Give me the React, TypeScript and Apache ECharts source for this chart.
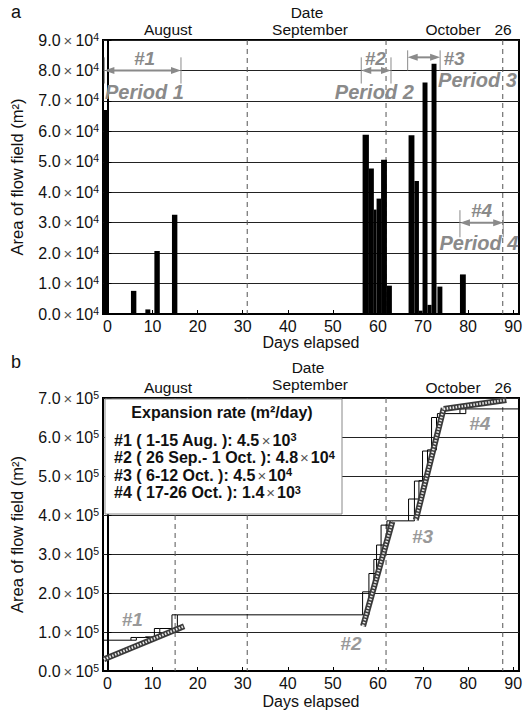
import React, { useEffect, useRef } from 'react';
import * as echarts from 'echarts';

// ---- data (days elapsed since 1 Aug) ----
const barStart = [-0.9, 5.2, 8.4, 10.4, 14.3, 56.6, 58.0, 59.1, 59.7, 60.7, 62.0, 66.8, 68.1, 69.1, 69.9, 71.0, 71.9, 73.2, 78.2];
const barEnd = [0.1, 6.4, 9.5, 11.6, 15.5, 58.0, 59.1, 59.7, 60.7, 62.0, 63.1, 68.1, 69.1, 69.9, 71.0, 71.9, 73.0, 74.3, 79.5];
const dailyArea = [67000, 7600, 1500, 20700, 32600, 58900, 47800, 34300, 37900, 50700, 9300, 58700, 43700, 1100, 76000, 3000, 82200, 9000, 13000];
const cumulativeArea = [79000, 86000, 87500, 109000, 144000, 203000, 250000, 286000, 323000, 374000, 385000, 441000, 487000, 488000, 564000, 567000, 650000, 660000, 672000];

const fitX0 = [-0.8, 56.7, 68.4, 74.6];
const fitY0 = [30000, 115000, 387000, 672000];
const fitX1 = [17.0, 63.2, 74.6, 88.5];
const fitY1 = [115000, 383000, 674000, 695000];

const periodFrom = [-0.7, 56.3, 66.6, 78.2];
const periodTo = [16.3, 62.9, 73.8, 87.8];
const periodLevel = [80000, 80000, 84300, 30000];
const periodTickTop = [84300, 84300, 86600, 34100];
const periodTickBottom = [75700, 75700, 80000, 25200];

const topLabelText = ['#1', '#2', '#3', '#4', 'Period 1', 'Period 2', 'Period 3', 'Period 4'];
const topLabelX = [8.2, 59.4, 76.9, 83.0, 8.2, 59.2, 82.1, 82.4];
const topLabelY = [83900, 83900, 83900, 34100, 72800, 72800, 76700, 23300];

const bottomLabelText = ['#1', '#2', '#3', '#4'];
const bottomLabelX = [5.5, 54.0, 69.9, 82.6];
const bottomLabelY = [131000, 71000, 344000, 635000];

const topDateLines = [31, 61.8, 87.7];
const bottomDateLines = [15, 31, 61.8, 87.7];

const xTicks = [0, 10, 20, 30, 40, 50, 60, 70, 80, 90];
const X_MIN = -1;
const X_MAX = 91.3;

const rateTitle = 'Expansion rate (m²/day)';
const ratePeriods = ['#1 ( 1-15 Aug. ): ', '#2 ( 26 Sep.- 1 Oct. ): ', '#3 ( 6-12 Oct. ): ', '#4 ( 17-26 Oct. ): '];
const rateMantissa = ['4.5', '4.8', '4.5', '1.4'];
const rateExponent = ['3', '4', '4', '3'];

const FONT = 'Liberation Sans, Arial, sans-serif';
const GRAY = '#8a8a8a';

function sciRich() {
  return {
    a: { fontSize: 16, fontFamily: FONT, color: '#111', lineHeight: 18 },
    x: { fontSize: 15, fontFamily: FONT, color: '#555', lineHeight: 18, padding: [0, 3, 0, 3] },
    s: { fontSize: 10.5, fontFamily: FONT, color: '#111', verticalAlign: 'top', lineHeight: 11 },
  };
}

function xAxis(gridIndex: number, gap: number) {
  return {
    type: 'value', gridIndex, min: X_MIN, max: X_MAX, splitNumber: 9,
    splitLine: { show: false },
    axisLine: { lineStyle: { color: '#000', width: 2 } },
    axisTick: { inside: true, length: 4, lineStyle: { color: '#000' } },
    axisLabel: {
      formatter: (v: number) => (xTicks.indexOf(v) >= 0 ? String(v) : ''),
      margin: 4, fontSize: 16, color: '#111', fontFamily: FONT,
    },
    name: 'Days elapsed', nameLocation: 'middle', nameGap: gap,
    nameTextStyle: { fontSize: 16, color: '#111', fontFamily: FONT },
  };
}

function yAxis(gridIndex: number, max: number, step: number, exp: string) {
  return {
    type: 'value', gridIndex, min: 0, max, interval: step,
    axisLine: { show: true, lineStyle: { color: '#000', width: 2 } },
    axisTick: { show: true, inside: true, length: 4, lineStyle: { color: '#000' } },
    splitLine: { show: true, lineStyle: { color: '#222', width: 1 } },
    axisLabel: {
      margin: 4,
      formatter: (v: number) => `{a|${(v / step).toFixed(1)}}{x|×}{a|10}{s|${exp}}`,
      rich: sciRich(),
    },
    name: 'Area of flow field (m²)', nameLocation: 'middle', nameGap: 78,
    nameTextStyle: { fontSize: 16.5, color: '#111', fontFamily: FONT },
  };
}

function dashedSeries(axisIndex: number, days: number[]) {
  return {
    type: 'custom', xAxisIndex: axisIndex, yAxisIndex: axisIndex, silent: true,
    data: days.map((d) => [d, 0]),
    renderItem: (params: any, api: any) => {
      const x = api.coord([api.value(0), 0])[0];
      const cs = params.coordSys;
      return {
        type: 'line',
        shape: { x1: x, y1: cs.y, x2: x, y2: cs.y + cs.height },
        style: { stroke: '#555', lineWidth: 1, lineDash: [5, 4] },
      };
    },
  };
}

function labelSeries(axisIndex: number, texts: string[], xs: number[], ys: number[], color: string) {
  return {
    type: 'custom', xAxisIndex: axisIndex, yAxisIndex: axisIndex, silent: true, z: 5,
    data: xs.map((x, i) => [x, ys[i]]),
    renderItem: (params: any, api: any) => {
      const p = api.coord([api.value(0), api.value(1)]);
      const t = texts[params.dataIndex];
      const size = t.startsWith('#') ? 19 : 20;
      return {
        type: 'text', x: p[0], y: p[1],
        style: {
          text: t, fill: color, font: `italic bold ${size}px ${FONT}`,
          textAlign: 'center', textVerticalAlign: 'middle', align: 'center', verticalAlign: 'middle',
        },
      };
    },
  };
}

function txt(text: string, x: number, y: number, size = 15.5, extra: any = {}) {
  return {
    type: 'text', x, y, z: 20,
    style: {
      text, fill: '#111', font: `${size}px ${FONT}`,
      textAlign: 'center', textVerticalAlign: 'middle', align: 'center', verticalAlign: 'middle',
      ...extra,
    },
  };
}

const boxRich = {
  t: { font: `bold 16px ${FONT}`, fill: '#111', color: '#111', lineHeight: 17 },
  x: { font: `15px ${FONT}`, fill: '#555', color: '#555', lineHeight: 17, padding: [0, 2, 0, 2] },
  s: { font: `bold 11px ${FONT}`, fill: '#111', color: '#111', verticalAlign: 'top', lineHeight: 11 },
};

function buildOption() {
  const graphic: any[] = [
    txt('a', 16, 12, 18),
    txt('b', 16, 362, 18),
    txt('Date', 307, 12),
    txt('August', 168, 29),
    txt('September', 310, 29),
    txt('October', 453, 29),
    txt('26', 503, 29),
    txt('Date', 308, 367, 15.5, { lineHeight: 12 }),
    txt('August', 168, 387),
    txt('September', 310, 384, 15.5, { lineHeight: 12 }),
    txt('October', 453, 387),
    txt('26', 503, 387),
    {
      type: 'rect', z: 10,
      shape: { x: 105, y: 399, width: 237, height: 115 },
      style: { fill: '#fff', stroke: '#888', lineWidth: 1 },
    },
    {
      type: 'text', x: 222, y: 412, z: 20,
      style: {
        text: rateTitle, fill: '#111', font: `bold 16px ${FONT}`,
        textAlign: 'center', textVerticalAlign: 'middle', align: 'center', verticalAlign: 'middle',
      },
    },
    ...ratePeriods.map((p, i) => ({
      type: 'text', x: 114, y: 440 + i * 17.6, z: 20,
      style: {
        text: `{t|${p}${rateMantissa[i]}}{x|×}{t|10}{s|${rateExponent[i]}}`, rich: boxRich,
        textAlign: 'left', textVerticalAlign: 'middle', align: 'left', verticalAlign: 'middle',
      },
    })),
  ];

  const barData = barStart.map((s, i) => [s, barEnd[i], dailyArea[i]]);
  const stairData = barStart.map((s, i) => [
    s, barEnd[i], i === 0 ? 0 : cumulativeArea[i - 1], cumulativeArea[i],
    i < barStart.length - 1 ? barStart[i + 1] : X_MAX,
  ]);
  const fitData = fitX0.map((x, i) => [x, fitY0[i], fitX1[i], fitY1[i]]);
  const periodData = periodFrom.map((f, i) => [f, periodTo[i], periodLevel[i], periodTickTop[i], periodTickBottom[i]]);

  return {
    animation: false,
    textStyle: { fontFamily: FONT },
    grid: [
      { left: 101, top: 40, width: 422, height: 274, show: true, borderColor: '#000', borderWidth: 2, backgroundColor: 'transparent' },
      { left: 101, top: 398, width: 422, height: 273, show: true, borderColor: '#000', borderWidth: 2, backgroundColor: 'transparent' },
    ],
    xAxis: [xAxis(0, 19), xAxis(1, 22)],
    yAxis: [yAxis(0, 90000, 10000, '4'), yAxis(1, 700000, 100000, '5')],
    graphic,
    series: [
      dashedSeries(0, topDateLines),
      {
        type: 'custom', xAxisIndex: 0, yAxisIndex: 0, silent: true,
        encode: { x: [0, 1], y: 2 },
        data: barData,
        renderItem: (params: any, api: any) => {
          const p0 = api.coord([api.value(0), api.value(2)]);
          const p1 = api.coord([api.value(1), 0]);
          return {
            type: 'rect',
            shape: { x: p0[0], y: p0[1], width: p1[0] - p0[0], height: p1[1] - p0[1] },
            style: { fill: '#000' },
          };
        },
      },
      {
        type: 'custom', xAxisIndex: 0, yAxisIndex: 0, silent: true, z: 4,
        encode: { x: [0, 1], y: 2 },
        data: periodData,
        renderItem: (params: any, api: any) => {
          const a = api.coord([api.value(0), api.value(2)]);
          const b = api.coord([api.value(1), api.value(2)]);
          const ta = api.coord([api.value(0), api.value(3)]);
          const tb = api.coord([api.value(0), api.value(4)]);
          const st = { stroke: GRAY, lineWidth: 2 };
          const L = 10, W = 3.5;
          return {
            type: 'group',
            children: [
              { type: 'line', shape: { x1: a[0] + 4, y1: a[1], x2: b[0] - 4, y2: b[1] }, style: st },
              { type: 'line', shape: { x1: a[0], y1: ta[1], x2: a[0], y2: tb[1] }, style: { stroke: GRAY, lineWidth: 1 } },
              { type: 'line', shape: { x1: b[0], y1: ta[1], x2: b[0], y2: tb[1] }, style: { stroke: GRAY, lineWidth: 1 } },
              { type: 'polygon', shape: { points: [[a[0], a[1]], [a[0] + L, a[1] - W], [a[0] + L, a[1] + W]] }, style: { fill: GRAY } },
              { type: 'polygon', shape: { points: [[b[0], b[1]], [b[0] - L, b[1] - W], [b[0] - L, b[1] + W]] }, style: { fill: GRAY } },
            ],
          };
        },
      },
      labelSeries(0, topLabelText, topLabelX, topLabelY, GRAY),

      dashedSeries(1, bottomDateLines),
      {
        type: 'custom', xAxisIndex: 1, yAxisIndex: 1, silent: true,
        encode: { x: [0, 1], y: 3 },
        data: stairData,
        renderItem: (params: any, api: any) => {
          const a = api.coord([api.value(0), api.value(3)]);
          const b = api.coord([api.value(1), api.value(2)]);
          const c = api.coord([api.value(4), api.value(3)]);
          return {
            type: 'group',
            children: [
              { type: 'rect', shape: { x: a[0], y: a[1], width: b[0] - a[0], height: b[1] - a[1] }, style: { fill: 'none', stroke: '#000', lineWidth: 1 } },
              { type: 'line', shape: { x1: b[0], y1: a[1], x2: c[0], y2: a[1] }, style: { stroke: '#000', lineWidth: 1 } },
            ],
          };
        },
      },
      {
        type: 'custom', xAxisIndex: 1, yAxisIndex: 1, silent: true, z: 3,
        encode: { x: [0, 2], y: [1, 3] },
        data: fitData,
        renderItem: (params: any, api: any) => {
          const p0 = api.coord([api.value(0), api.value(1)]);
          const p1 = api.coord([api.value(2), api.value(3)]);
          const shape = { x1: p0[0], y1: p0[1], x2: p1[0], y2: p1[1] };
          return {
            type: 'group',
            children: [
              { type: 'line', shape, style: { stroke: '#3a3a3a', lineWidth: 6 } },
              { type: 'line', shape, style: { stroke: '#e8e8e8', lineWidth: 2.5, lineDash: [1.5, 1.5] } },
            ],
          };
        },
      },
      labelSeries(1, bottomLabelText, bottomLabelX, bottomLabelY, '#999'),
    ],
  };
}

export default function App() {
  const ref = useRef<HTMLDivElement>(null);
  useEffect(() => {
    const chart = echarts.init(ref.current!, undefined, { renderer: 'svg' });
    chart.setOption(buildOption() as any);
    return () => chart.dispose();
  }, []);
  return <div ref={ref} style={{ position: 'absolute', left: 0, top: 0, width: 525, height: 715, background: '#fff' }} />;
}
